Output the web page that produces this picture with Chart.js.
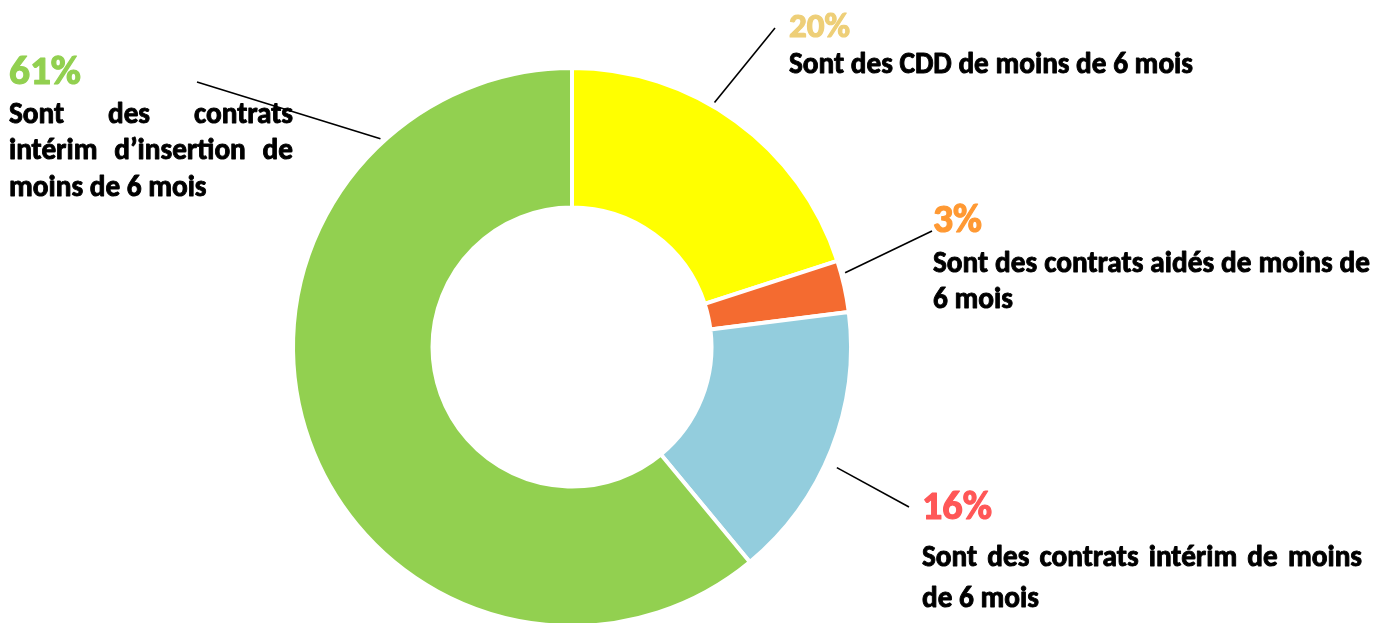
<!DOCTYPE html>
<html>
<head>
<meta charset="utf-8">
<script src="https://cdn.jsdelivr.net/npm/chart.js@4/dist/chart.umd.min.js"></script>
<style>
  html, body { margin: 0; padding: 0; background: #fff; overflow: hidden; }
  #wrap { width: 1392px; height: 700px; }
</style>
</head>
<body>
<div id="wrap"><canvas id="c" width="1392" height="700"></canvas></div>
<script>
// Contract types, their shares (%) and colours
const categories = ['CDD', 'Contrats aidés', 'Intérim', 'Intérim d’insertion'];
const shares = [20, 3, 16, 61];
const sliceColors = ['#FFFF00', '#F46B30', '#93CDDD', '#92D050'];
const valueColors = ['#EECF78', '#FF9933', '#FF5757', '#92D050'];
const descriptions = [
  ['Sont des CDD de moins de 6 mois'],
  ['Sont des contrats aidés de moins de', '6 mois'],
  ['Sont des contrats intérim de moins', 'de 6 mois'],
  ['Sont des contrats', 'intérim d’insertion de', 'moins de 6 mois']
];

// Placement of each callout block (text anchor, line baselines, justified widths, leader line)
const calloutLayout = [
  { x: 789, valueY: 37,  valueW: 62, lines: [73],            justifyTo: [null],           frac: 0.42,  gap: 4,  end: [775, 28] },
  { x: 933, valueY: 232, valueW: 50, lines: [272, 308],      justifyTo: [1370, null],     frac: 0.26,  gap: 4,  end: [932, 231] },
  { x: 922, valueY: 519, valueW: 71, lines: [566, 607],      justifyTo: [1362, null],     frac: 0.55,  gap: 12, end: [909, 507] },
  { x: 9,   valueY: 84,  valueW: 73, lines: [123, 159, 196], justifyTo: [293, 293, null], frac: 0.806, gap: 4,  end: [197, 82] }
];

const FAMILY = 'Carlito, Calibri, Lato, sans-serif';
const WEIGHT = 'bold';

function sizeFor(ctx, text, width) {
  ctx.font = WEIGHT + ' 100px ' + FAMILY;
  return 100 * width / ctx.measureText(text).width;
}

// heavy text: fill plus a thin outline in the same colour
function heavyText(ctx, text, x, y, extra) {
  ctx.fillText(text, x, y);
  ctx.lineWidth = extra;
  ctx.strokeText(text, x, y);
}

function drawLine(ctx, text, x, y, right, extra) {
  if (right == null) { heavyText(ctx, text, x, y, extra); return; }
  const words = text.split(' ');
  const widths = words.map(w => ctx.measureText(w).width);
  const total = widths.reduce((a, b) => a + b, 0);
  const space = words.length > 1 ? (right - x - total) / (words.length - 1) : 0;
  let cx = x;
  words.forEach((w, i) => { heavyText(ctx, w, cx, y, extra); cx += widths[i] + space; });
}

const callouts = {
  id: 'callouts',
  afterDraw(chart) {
    const ctx = chart.ctx;
    const arcs = chart.getDatasetMeta(0).data;
    ctx.save();
    ctx.textAlign = 'left';
    ctx.textBaseline = 'alphabetic';
    ctx.lineJoin = 'round';
    const bodySize = sizeFor(ctx, descriptions[0][0], 404);
    arcs.forEach((arc, i) => {
      const L = calloutLayout[i];
      // leader line from the slice rim to the text block
      const a = arc.startAngle + (arc.endAngle - arc.startAngle) * L.frac;
      const r = arc.outerRadius + L.gap;
      ctx.strokeStyle = '#000';
      ctx.lineWidth = 1.6;
      ctx.beginPath();
      ctx.moveTo(arc.x + Math.cos(a) * r, arc.y + Math.sin(a) * r);
      ctx.lineTo(L.end[0], L.end[1]);
      ctx.stroke();
      // percentage
      const valueText = shares[i] + '%';
      const vs = sizeFor(ctx, valueText, L.valueW - 1);
      ctx.font = WEIGHT + ' ' + vs + 'px ' + FAMILY;
      ctx.fillStyle = valueColors[i];
      ctx.strokeStyle = valueColors[i];
      heavyText(ctx, valueText, L.x, L.valueY, 1.2);
      // description
      ctx.font = WEIGHT + ' ' + bodySize + 'px ' + FAMILY;
      ctx.fillStyle = '#000';
      ctx.strokeStyle = '#000';
      descriptions[i].forEach((line, j) => drawLine(ctx, line, L.x, L.lines[j], L.justifyTo[j], 0.9));
    });
    ctx.restore();
  }
};

new Chart(document.getElementById('c'), {
  type: 'doughnut',
  data: {
    labels: categories,
    datasets: [{
      data: shares,
      backgroundColor: sliceColors,
      borderColor: '#FFFFFF',
      borderWidth: 4
    }]
  },
  options: {
    responsive: false,
    animation: false,
    cutout: '50%',
    layout: { padding: { left: 291, right: 539, top: 66, bottom: 72 } },
    plugins: { legend: { display: false }, tooltip: { enabled: false } }
  },
  plugins: [callouts]
});
</script>
</body>
</html>
